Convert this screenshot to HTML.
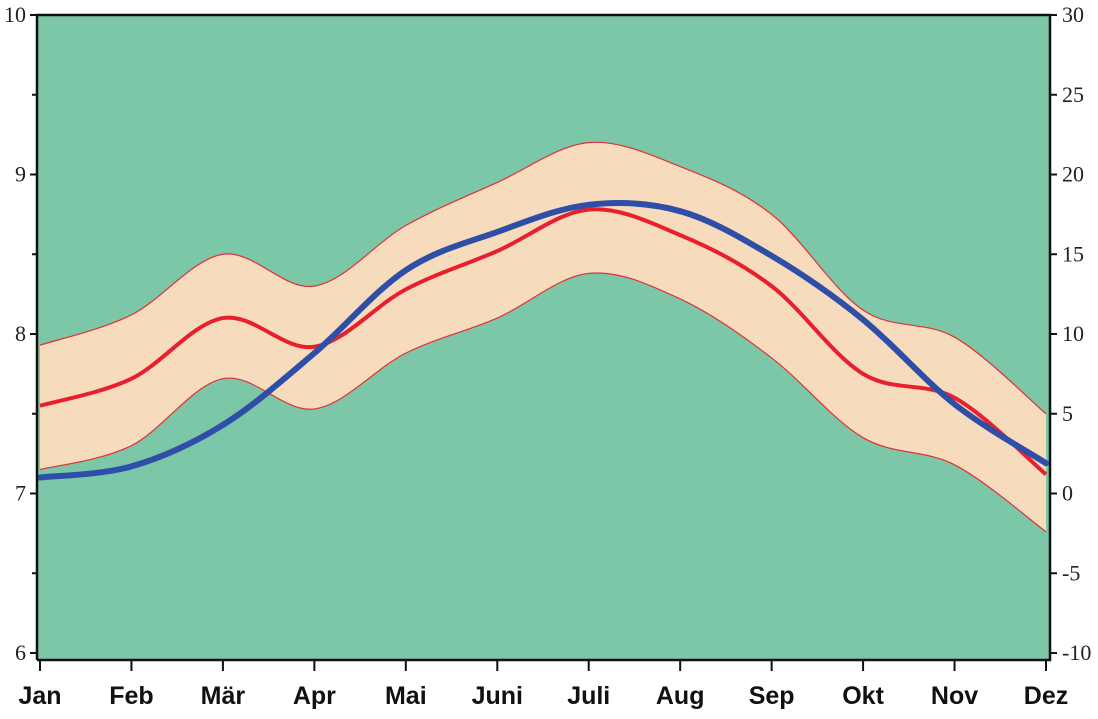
<!DOCTYPE html>
<html><head><meta charset="utf-8"><style>
body{margin:0;background:#fff;width:1098px;height:714px;overflow:hidden}
svg text{font-family:"Liberation Serif",serif}
</style></head><body>
<svg id="c" width="1098" height="714">
<rect x="37" y="16" width="1012" height="643" fill="#7cc7a7"/>
<g id="g"></g>
</svg>
<script>
const months=["Jan","Feb","Mär","Apr","Mai","Juni","Juli","Aug","Sep","Okt","Nov","Dez"];
const upper=[7.93,8.12,8.5,8.3,8.68,8.95,9.2,9.05,8.75,8.15,7.98,7.5];
const mid=[7.55,7.72,8.1,7.92,8.28,8.52,8.78,8.62,8.3,7.75,7.6,7.12];
const lower=[7.15,7.3,7.72,7.53,7.88,8.1,8.38,8.22,7.85,7.35,7.18,6.76];
const temp=[1.0,1.7,4.3,8.8,14.0,16.4,18.1,17.7,14.9,10.9,5.6,1.9];
const leftTicks=[6,7,8,9,10];
const rightTicks=[-10,-5,0,5,10,15,20,25,30];
const NS="http://www.w3.org/2000/svg";
const g=document.getElementById('g');
const X=i=>40+i*(1046-40)/11;
const YL=v=>653-(v-6)*159.5;
const YR=v=>653-(v+10)*15.95;
function mk(t,a){const e=document.createElementNS(NS,t);for(const k in a)e.setAttribute(k,a[k]);g.appendChild(e);return e;}
function pts(arr,f){return arr.map((v,i)=>[X(i),f(v)]);}
function spline(p){let d=`M${p[0][0]},${p[0][1]}`;for(let i=0;i<p.length-1;i++){const p0=p[i-1]||p[i],p1=p[i],p2=p[i+1],p3=p[i+2]||p2;d+=` C${p1[0]+(p2[0]-p0[0])/6},${p1[1]+(p2[1]-p0[1])/6} ${p2[0]-(p3[0]-p1[0])/6},${p2[1]-(p3[1]-p1[1])/6} ${p2[0]},${p2[1]}`;}return d;}
function rev(p){return p.slice().reverse();}
const up=pts(upper,YL),lo=pts(lower,YL);
let band=mk('path',{d:spline(up)+' L'+spline(rev(lo)).slice(1)+' Z',fill:'#f6dcbc'});


let ul=mk('path',{d:spline(up),fill:'none',stroke:'#e0303a','stroke-width':1.2});


let ll=mk('path',{d:spline(lo),fill:'none',stroke:'#e0303a','stroke-width':1.2});


let ml=mk('path',{d:spline(pts(mid,YL)),fill:'none',stroke:'#e8202e','stroke-width':4});


let bl=mk('path',{d:spline(pts(temp,YR)),fill:'none',stroke:'#2e4ea8','stroke-width':6,'stroke-linecap':'round'});


let ax=mk('path',{d:'M37,660 L37,15 L1050,15 L1050,660 L37,660',fill:'none',stroke:'#111','stroke-width':2.5});


leftTicks.forEach(v=>{const y=YL(v);
 mk('line',{x1:30,x2:37,y1:y,y2:y,stroke:'#111','stroke-width':2});
 if(v<10)mk('line',{x1:32,x2:37,y1:y-79.75,y2:y-79.75,stroke:'#111','stroke-width':2});
 const t=mk('text',{x:26,y:y+7,'text-anchor':'end','font-size':22,fill:'#222'});t.textContent=v;
 
 });
rightTicks.forEach(v=>{const y=YR(v);
 mk('line',{x1:1050,x2:1057,y1:y,y2:y,stroke:'#111','stroke-width':2});
 const t=mk('text',{x:1062,y:y+7,'font-size':22,fill:'#222'});t.textContent=v;
 
 });
months.forEach((m,i)=>{const x=X(i);
 mk('line',{x1:x,x2:x,y1:660,y2:671,stroke:'#111','stroke-width':2});
 const t=mk('text',{x:x,y:704,'text-anchor':'middle','font-size':25,'font-weight':'bold',fill:'#111'});
 t.style.fontFamily='"Liberation Sans",sans-serif';t.textContent=m;
 
 });
</script>
</body></html>
